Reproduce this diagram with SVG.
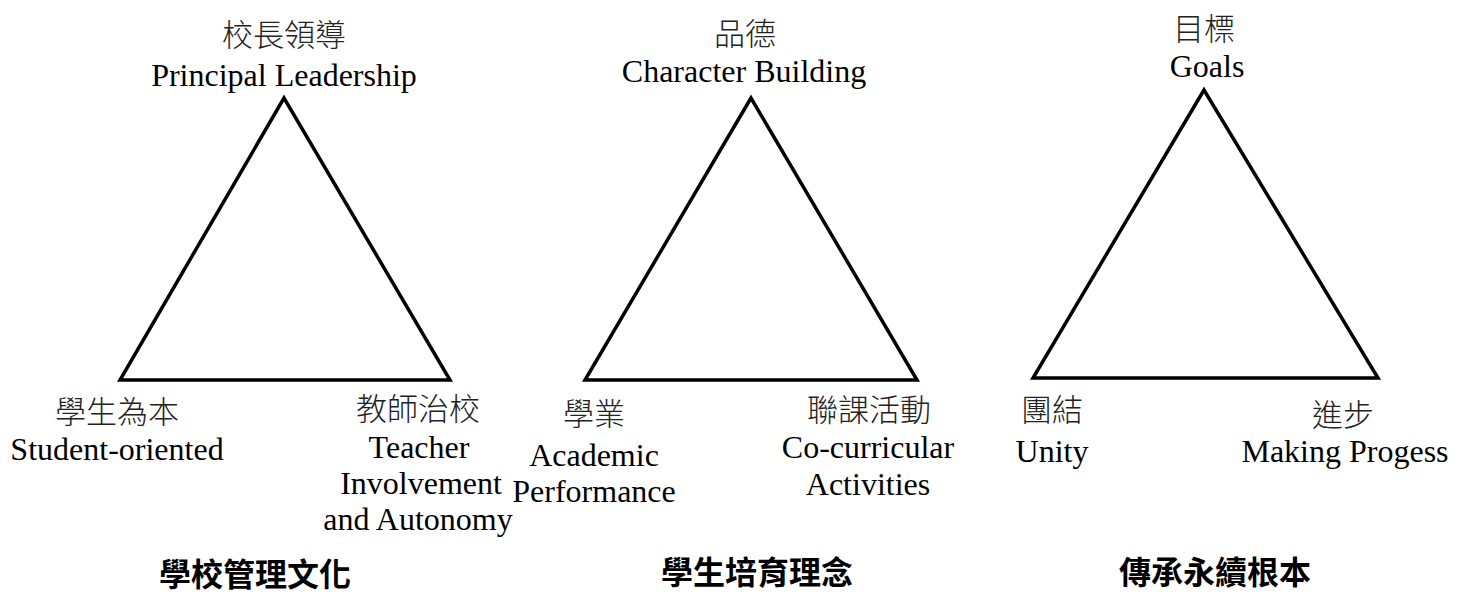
<svg xmlns="http://www.w3.org/2000/svg" width="1459" height="596" viewBox="0 0 1459 596">
<style>
.t{font-family:"Liberation Serif","Noto Sans CJK TC",serif;font-size:32px;fill:#000;text-anchor:middle}
.c{font-family:"Noto Sans CJK TC","Liberation Serif",serif;font-size:31px;fill:#222;text-anchor:middle;font-weight:300}
.h{font-family:"Noto Sans CJK TC","Liberation Serif",serif;font-size:32px;fill:#000;text-anchor:middle;font-weight:bold}
.tri{fill:none;stroke:#000;stroke-width:3.5;stroke-linejoin:miter}
</style>
<rect width="1459" height="596" fill="#fff"/>
<g id="connectors">
<polygon class="tri" points="284,98 120,380 450,380"/>
<polygon class="tri" points="751,98 585,380 917,380"/>
<polygon class="tri" points="1204,90 1033,378 1378,378"/>
</g>
<g id="n1-top"><text class="c" x="284" y="46">校長領導</text><text class="t" x="284" y="86">Principal Leadership</text></g>
<g id="n1-left"><text class="c" x="117" y="423">學生為本</text><text class="t" x="117" y="460">Student-oriented</text></g>
<g id="n1-right"><text class="c" x="418" y="420">教師治校</text><text class="t" x="419" y="458">Teacher</text><text class="t" x="421" y="494">Involvement</text><text class="t" x="418" y="530">and Autonomy</text></g>
<g id="n1-title"><text class="h" x="255" y="586">學校管理文化</text></g>
<g id="n2-top"><text class="c" x="745" y="45">品德</text><text class="t" x="744" y="82">Character Building</text></g>
<g id="n2-left"><text class="c" x="594" y="425">學業</text><text class="t" x="594" y="466">Academic</text><text class="t" x="594" y="502">Performance</text></g>
<g id="n2-right"><text class="c" x="869" y="421">聯課活動</text><text class="t" x="868" y="458">Co-curricular</text><text class="t" x="868" y="495">Activities</text></g>
<g id="n2-title"><text class="h" x="757" y="584">學生培育理念</text></g>
<g id="n3-top"><text class="c" x="1204" y="40">目標</text><text class="t" x="1207" y="77">Goals</text></g>
<g id="n3-left"><text class="c" x="1052" y="421">團結</text><text class="t" x="1052" y="462">Unity</text></g>
<g id="n3-right"><text class="c" x="1343" y="426">進步</text><text class="t" x="1345" y="462">Making Progess</text></g>
<g id="n3-title"><text class="h" x="1215" y="584">傳承永續根本</text></g>
</svg>
